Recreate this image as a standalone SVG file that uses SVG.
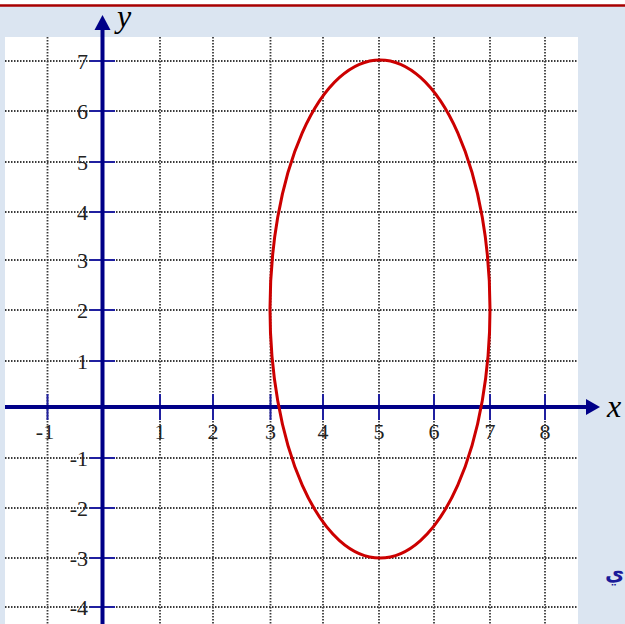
<svg xmlns="http://www.w3.org/2000/svg" width="625" height="624" viewBox="0 0 625 624">
<style>
.grid line{stroke:#3a3a3a;stroke-width:1.8;stroke-dasharray:1.5 1.5}
.tick{stroke:#2020a0;stroke-width:2}
.lbl{font-family:"Liberation Serif","Times New Roman",serif;font-size:22px;fill:#222}
.axlbl{font-family:"Liberation Serif","Times New Roman",serif;font-style:italic;font-size:32px;fill:#000}
</style>
<rect x="0" y="0" width="625" height="624" fill="#ffffff"/>
<rect x="0" y="6" width="625" height="618" fill="#dbe5f1"/>
<line x1="0" y1="5.5" x2="625" y2="5.5" stroke="#a80000" stroke-width="2.6"/>
<rect x="5" y="37" width="573" height="587" fill="#ffffff"/>
<g id="grid" class="grid">
<line x1="47.5" y1="37" x2="47.5" y2="624"/>
<line x1="160" y1="37" x2="160" y2="624"/>
<line x1="213" y1="37" x2="213" y2="624"/>
<line x1="270.5" y1="37" x2="270.5" y2="624"/>
<line x1="323" y1="37" x2="323" y2="624"/>
<line x1="379" y1="37" x2="379" y2="624"/>
<line x1="434" y1="37" x2="434" y2="624"/>
<line x1="490" y1="37" x2="490" y2="624"/>
<line x1="545" y1="37" x2="545" y2="624"/>
<line x1="5" y1="61" x2="578" y2="61"/>
<line x1="5" y1="111" x2="578" y2="111"/>
<line x1="5" y1="162" x2="578" y2="162"/>
<line x1="5" y1="212" x2="578" y2="212"/>
<line x1="5" y1="260" x2="578" y2="260"/>
<line x1="5" y1="310" x2="578" y2="310"/>
<line x1="5" y1="361" x2="578" y2="361"/>
<line x1="5" y1="458" x2="578" y2="458"/>
<line x1="5" y1="508" x2="578" y2="508"/>
<line x1="5" y1="558" x2="578" y2="558"/>
<line x1="5" y1="607" x2="578" y2="607"/>
</g>
<g id="ticks" class="tick">
<line x1="47.5" y1="394" x2="47.5" y2="420"/>
<line x1="160" y1="394" x2="160" y2="420"/>
<line x1="213" y1="394" x2="213" y2="420"/>
<line x1="270.5" y1="394" x2="270.5" y2="420"/>
<line x1="323" y1="394" x2="323" y2="420"/>
<line x1="379" y1="394" x2="379" y2="420"/>
<line x1="434" y1="394" x2="434" y2="420"/>
<line x1="490" y1="394" x2="490" y2="420"/>
<line x1="545" y1="394" x2="545" y2="420"/>
<line x1="90" y1="61" x2="115" y2="61"/>
<line x1="90" y1="111" x2="115" y2="111"/>
<line x1="90" y1="162" x2="115" y2="162"/>
<line x1="90" y1="212" x2="115" y2="212"/>
<line x1="90" y1="260" x2="115" y2="260"/>
<line x1="90" y1="310" x2="115" y2="310"/>
<line x1="90" y1="361" x2="115" y2="361"/>
<line x1="90" y1="458" x2="115" y2="458"/>
<line x1="90" y1="508" x2="115" y2="508"/>
<line x1="90" y1="558" x2="115" y2="558"/>
<line x1="90" y1="607" x2="115" y2="607"/>
</g>
<g id="axes" fill="#000088" stroke="#000088">
<line x1="5" y1="407" x2="590" y2="407" stroke-width="4"/>
<polygon points="600,407 586,399 586,415" stroke="none"/>
<line x1="102.5" y1="624" x2="102.5" y2="27" stroke-width="4"/>
<polygon points="102.5,15 94.5,30 110.5,30" stroke="none"/>
</g>
<g id="x-labels" class="lbl" text-anchor="middle">
<text x="45" y="439">-1</text>
<text x="160" y="439">1</text>
<text x="213" y="439">2</text>
<text x="270.5" y="439">3</text>
<text x="323" y="439">4</text>
<text x="379" y="439">5</text>
<text x="434" y="439">6</text>
<text x="490" y="439">7</text>
<text x="545" y="439">8</text>
</g>
<g id="y-labels" class="lbl" text-anchor="end">
<text x="88" y="69">7</text>
<text x="88" y="119">6</text>
<text x="88" y="170">5</text>
<text x="88" y="220">4</text>
<text x="88" y="268">3</text>
<text x="88" y="318">2</text>
<text x="88" y="369">1</text>
<text x="88" y="466">-1</text>
<text x="88" y="516">-2</text>
<text x="88" y="566">-3</text>
<text x="88" y="615">-4</text>
</g>
<text class="axlbl" x="607" y="417">x</text>
<text class="axlbl" x="117" y="27" font-size="28">y</text>
<g id="ellipse">
<ellipse cx="380" cy="309" rx="110" ry="249" fill="none" stroke="#cc0000" stroke-width="3"/>
</g>
<text x="605" y="580" font-family="'DejaVu Sans','Noto Sans',sans-serif" font-size="21" font-weight="bold" fill="#1a1a99">ي</text>
</svg>
